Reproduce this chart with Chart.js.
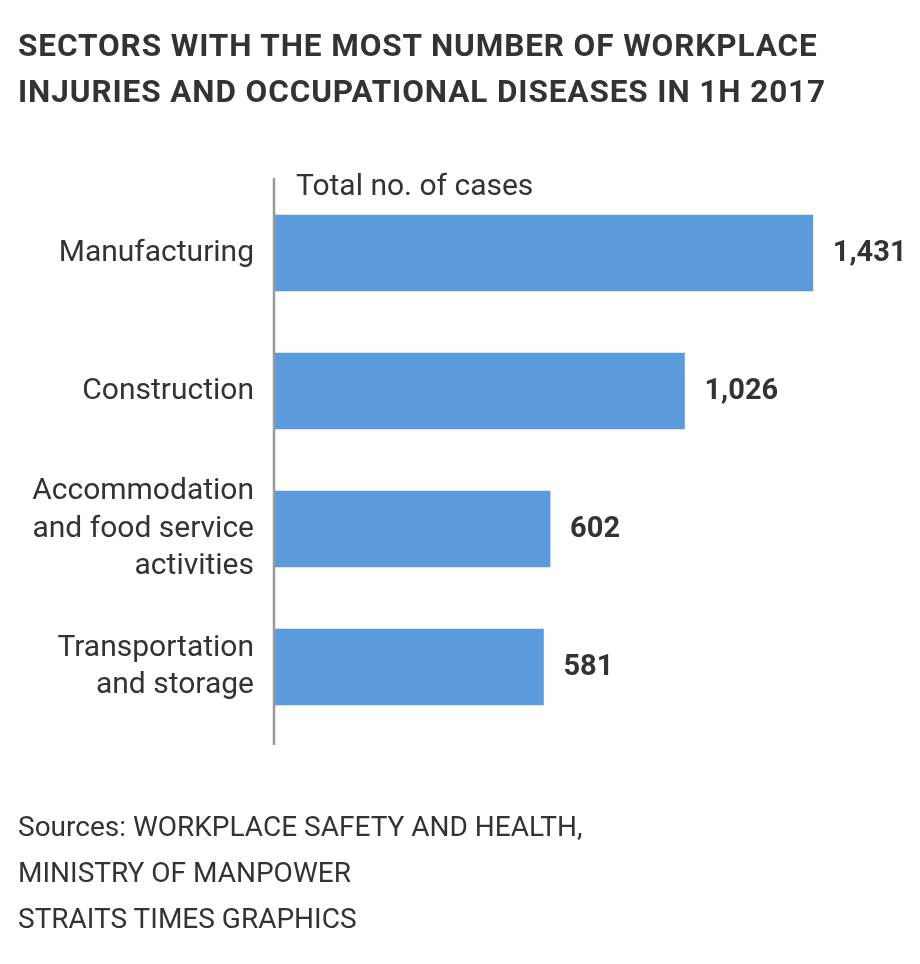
<!DOCTYPE html>
<html>
<head>
<meta charset="utf-8">
<script src="https://cdn.jsdelivr.net/npm/chart.js@4.4.0/dist/chart.umd.min.js"></script>
<style>
body{margin:0;background:#fff;width:920px;height:964px;position:relative;overflow:hidden;font-family:Roboto,sans-serif;color:#333}
#title{position:absolute;left:18px;top:23px;font-weight:700;font-size:31.5px;letter-spacing:0.9px;line-height:46px;white-space:nowrap}
#source{position:absolute;left:18px;top:804px;font-size:28px;line-height:46px;white-space:nowrap}
canvas{position:absolute;left:0;top:0}
</style>
</head>
<body>
<canvas id="chart" width="920" height="964"></canvas>
<div id="title">SECTORS WITH THE MOST NUMBER OF WORKPLACE<br>INJURIES AND OCCUPATIONAL DISEASES IN 1H 2017</div>
<div id="source">Sources: WORKPLACE SAFETY AND HEALTH,<br>MINISTRY OF MANPOWER<br>STRAITS TIMES GRAPHICS</div>
<script>
// data
var sectors = [
	["Manufacturing"],
	["Construction"],
	["Accommodation", "and food service", "activities"],
	["Transportation", "and storage"]
];
var cases = [1431, 1026, 602, 581];
var axisLabel = "Total no. of cases";

var barColor = "#5b9bdc";
var textColor = "#333333";
var axisMin = -266; // the graphic's bars don't start at zero

// vertical axis line + axis caption + value labels
var decorations = {
	id: "decorations",
	afterDatasetsDraw: function(chart){
		var ctx = chart.ctx, area = chart.chartArea;
		ctx.save();
		ctx.strokeStyle = "#9a9a9a";
		ctx.lineWidth = 2.5;
		ctx.beginPath();
		ctx.moveTo(area.left - 1, area.top - 6);
		ctx.lineTo(area.left - 1, area.bottom + 9);
		ctx.stroke();

		ctx.fillStyle = textColor;
		ctx.font = "30px Roboto";
		ctx.textBaseline = "alphabetic";
		ctx.textAlign = "left";
		ctx.fillText(axisLabel, area.left + 21, 195);

		ctx.font = "bold 29px Roboto";
		ctx.textBaseline = "middle";
		chart.getDatasetMeta(0).data.forEach(function(bar, i){
			ctx.fillText(cases[i].toLocaleString("en-US"), bar.x + 20, bar.y + 1);
		});
		ctx.restore();
	}
};

new Chart(document.getElementById("chart"), {
	type: "bar",
	data: {
		labels: sectors,
		datasets: [{
			data: cases,
			base: axisMin,
			backgroundColor: barColor,
			borderWidth: 0,
			barThickness: 76
		}]
	},
	options: {
		indexAxis: "y",
		responsive: false,
		animation: false,
		events: [],
		layout: {
			padding: {left: 0, top: 184, right: 20, bottom: 228}
		},
		plugins: {
			legend: {display: false},
			tooltip: {enabled: false}
		},
		scales: {
			x: {
				display: false,
				min: axisMin,
				max: 1706
			},
			y: {
				afterFit: function(scale){ scale.width = 275; },
				grid: {display: false, drawTicks: false},
				border: {display: false},
				ticks: {
					color: textColor,
					padding: 21,
					font: {family: "Roboto", size: 30, lineHeight: 1.25}
				}
			}
		}
	},
	plugins: [decorations]
});
</script>
</body>
</html>
